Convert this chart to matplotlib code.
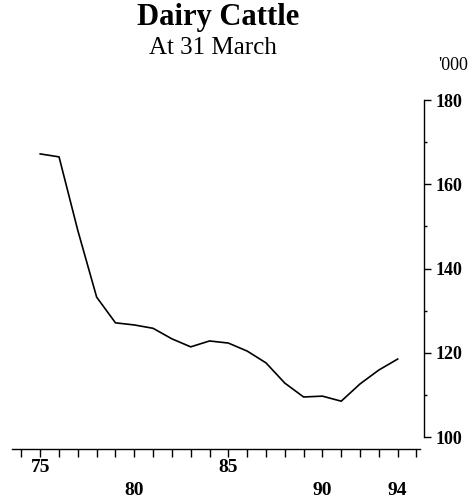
import numpy as np
import matplotlib
matplotlib.use('Agg')
import matplotlib.pyplot as plt
from matplotlib.ticker import MultipleLocator

# dairy cattle at 31 March, thousands
years = list(range(75, 95))
cattle = [167.2, 166.5, 149.0, 133.2, 127.1, 126.6, 125.8, 123.3, 121.4, 122.8,
          122.3, 120.4, 117.6, 112.8, 109.5, 109.7, 108.5, 112.6, 115.9, 118.5]

xlabel_years = [75, 80, 85, 90, 94]
ytick_values = [100, 120, 140, 160, 180]

plt.rcParams['font.family'] = ['Liberation Serif', 'DejaVu Serif']

fig = plt.figure(figsize=(4.75, 4.99), dpi=100)
# axes box in pixels: left 12, right 424, top 100, bottom 449
W, H = 475.0, 499.0
ax = fig.add_axes([12 / W, 1 - 449 / H, (424 - 12) / W, (449 - 100) / H])

ax.plot(years, cattle, color='black', lw=1.2)

ax.set_xlim(73.5, 95.4)
ax.set_ylim(100 - (449 - 437) / 4.2125, 180)

for s in ['left', 'top']:
    ax.spines[s].set_visible(False)
ax.spines['right'].set_bounds(100, 180)
ax.spines['bottom'].set_bounds(73.5, 95.2)
ax.spines['right'].set_linewidth(1.0)
ax.spines['bottom'].set_linewidth(1.0)

ax.yaxis.tick_right()
ax.set_yticks(ytick_values)
ax.set_yticklabels([str(v) for v in ytick_values], fontsize=13, fontweight='bold')
ax.yaxis.set_minor_locator(MultipleLocator(10))
ax.tick_params(axis='y', which='major', direction='out', length=5, width=1, pad=3)
ax.tick_params(axis='y', which='minor', direction='out', length=2, width=1)

ax.set_xticks(xlabel_years)
ax.set_xticklabels([str(v) for v in xlabel_years], fontsize=14, fontweight='bold')
ax.xaxis.set_minor_locator(MultipleLocator(1))
ax.tick_params(axis='x', which='both', direction='out', length=6, width=1)
for t, yr in zip(ax.xaxis.get_major_ticks(), xlabel_years):
    t.set_pad(1 if yr in (75, 85) else 18)

fig.text(218 / W, 1 - 18 / H, 'Dairy Cattle', ha='center', va='center',
         fontsize=22, fontweight='bold')
fig.text(213 / W, 1 - 48 / H, 'At 31 March', ha='center', va='center', fontsize=18)
fig.text(453 / W, 1 - 66 / H, "'000", ha='center', va='center', fontsize=13)

fig.savefig('out.png', dpi=100)
